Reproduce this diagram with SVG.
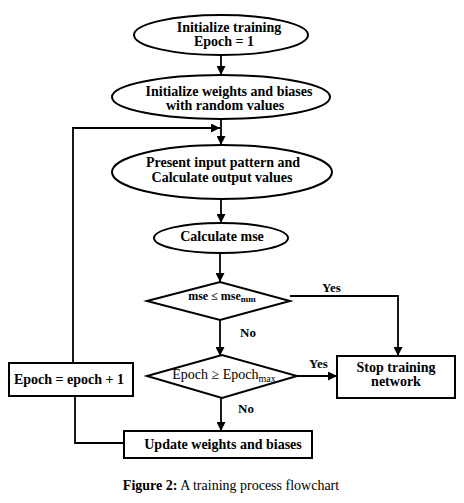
<svg xmlns="http://www.w3.org/2000/svg" width="464" height="503" viewBox="0 0 464 503">
  <style>
    .shape { fill: #fff; stroke: #000; stroke-width: 2; }
    .edge { fill: none; stroke: #000; stroke-width: 1.8; }
    .t { font-family: "Liberation Serif", "Times New Roman", serif; font-size: 14px; font-weight: bold; text-anchor: middle; fill: #000; }
    .lbl { font-family: "Liberation Serif", "Times New Roman", serif; font-size: 13px; font-weight: bold; fill: #000; }
    .cap { font-family: "Liberation Serif", "Times New Roman", serif; font-size: 14px; fill: #000; text-anchor: middle; }
  </style>
  <defs>
    <marker id="arrow" viewBox="0 0 10 10" refX="10" refY="5" markerWidth="5.5" markerHeight="5" orient="auto" markerUnits="strokeWidth">
      <path d="M0,0 L10,5 L0,10 z" fill="#000"/>
    </marker>
  </defs>
  <rect width="464" height="503" fill="#fff"/>

  <g id="connectors">
    <line class="edge" x1="221" y1="55" x2="221" y2="75" marker-end="url(#arrow)"/>
    <line class="edge" x1="221" y1="119" x2="221" y2="145" marker-end="url(#arrow)"/>
    <polyline class="edge" points="75,396 75,443 124,443"/>
    <polyline class="edge" points="73,363 73,128 220,128" marker-end="url(#arrow)"/>
    <line class="edge" x1="221" y1="199" x2="221" y2="223" marker-end="url(#arrow)"/>
    <line class="edge" x1="220" y1="253" x2="220" y2="282" marker-end="url(#arrow)"/>
    <polyline class="edge" points="290,296 398,296 398,356" marker-end="url(#arrow)"/>
    <line class="edge" x1="220" y1="320" x2="220" y2="356" marker-end="url(#arrow)"/>
    <line class="edge" x1="297" y1="376" x2="337" y2="376" marker-end="url(#arrow)"/>
    <line class="edge" x1="221" y1="398" x2="221" y2="431" marker-end="url(#arrow)"/>
    <text class="lbl" x="322" y="292">Yes</text>
    <text class="lbl" x="240" y="337">No</text>
    <text class="lbl" x="309" y="368">Yes</text>
    <text class="lbl" x="238" y="413">No</text>
  </g>

  <g id="init-training">
    <ellipse class="shape" cx="221" cy="35" rx="87" ry="20"/>
    <text class="t" x="229" y="32">Initialize training</text>
    <text class="t" x="224" y="46">Epoch = 1</text>
  </g>

  <g id="init-weights">
    <ellipse class="shape" cx="221" cy="97" rx="109" ry="22"/>
    <text class="t" x="229" y="96">Initialize weights and biases</text>
    <text class="t" x="225" y="110">with random values</text>
  </g>

  <g id="present-input">
    <ellipse class="shape" cx="222" cy="172" rx="110" ry="27"/>
    <text class="t" x="223" y="167">Present input pattern and</text>
    <text class="t" x="222" y="182">Calculate output values</text>
  </g>

  <g id="calc-mse">
    <ellipse class="shape" cx="221" cy="238" rx="67" ry="15"/>
    <text class="t" x="222" y="241">Calculate mse</text>
  </g>

  <g id="mse-check">
    <polygon class="shape" points="147,301 220,282 290,301 220,320"/>
    <text class="t" x="222" y="300" style="font-size:12px">mse ≤ mse<tspan dy="2" style="font-size:9px">mm</tspan></text>
  </g>

  <g id="epoch-check">
    <polygon class="shape" points="147,376 222,355 297,376 222,398"/>
    <text x="224" y="379" style="font-family:'Liberation Serif','Times New Roman',serif;font-size:14px;text-anchor:middle">Epoch ≥ Epoch<tspan dy="3" style="font-size:10px">max</tspan></text>
  </g>

  <g id="epoch-increment">
    <rect class="shape" x="9" y="363" width="124" height="33"/>
    <text class="t" x="69" y="384">Epoch = epoch + 1</text>
  </g>

  <g id="stop-training">
    <rect class="shape" x="337" y="356" width="118" height="42"/>
    <text class="t" x="396" y="372">Stop training</text>
    <text class="t" x="396" y="386">network</text>
  </g>

  <g id="update-weights">
    <rect class="shape" x="124" y="431" width="188" height="27"/>
    <text class="t" x="223" y="449">Update weights and biases</text>
  </g>

  <text class="cap" x="231" y="490"><tspan font-weight="bold">Figure 2:</tspan> A training process flowchart</text>
</svg>
